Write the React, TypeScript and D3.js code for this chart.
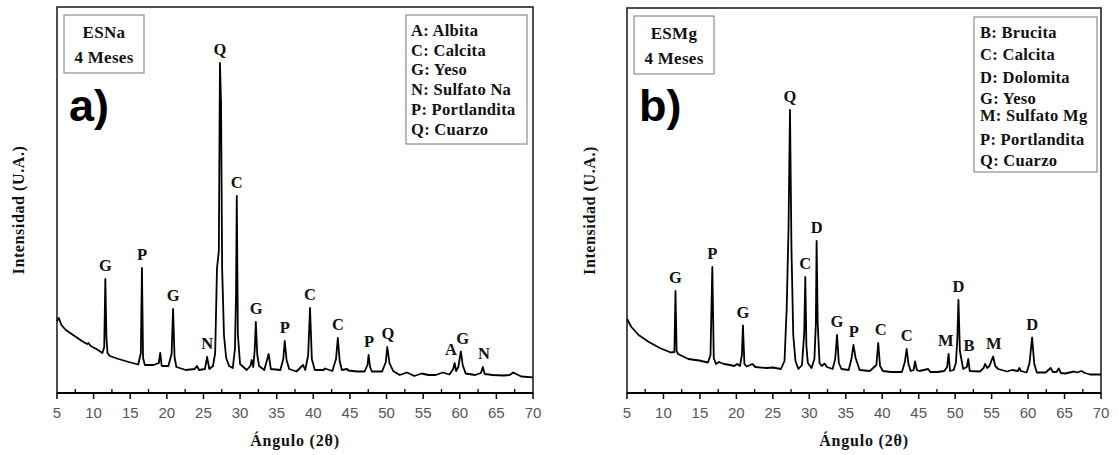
import React from 'react';
import * as d3 from 'd3';

const esnaPattern: [number, number][] = [
  [5.0, 72], [5.25, 75], [5.6, 68], [6.2, 63], [7.0, 59], [7.8, 55], [8.5, 51.5], [9.1, 49],
  [9.3, 50], [9.6, 47], [10.5, 43.5], [11.2, 40], [11.45, 46], [11.6, 114], [11.75, 55],
  [11.9, 40], [12.2, 37], [13.4, 34], [14.8, 31], [16.1, 28.5], [16.45, 40], [16.6, 125],
  [16.75, 35], [17.0, 28], [18.2, 28], [18.9, 30], [19.1, 40], [19.3, 27], [20.2, 27],
  [20.65, 39], [20.85, 84], [21.05, 36], [21.3, 26], [22.6, 23], [23.8, 24], [24.1, 27],
  [24.4, 23], [25.2, 24], [25.5, 36], [25.8, 24], [26.3, 27], [26.6, 40], [26.85, 125],
  [27.1, 142], [27.25, 330], [27.4, 290], [27.55, 125], [27.8, 58], [28.1, 35], [28.5, 27],
  [29.0, 25], [29.3, 44], [29.45, 100], [29.55, 197], [29.7, 58], [30.0, 29], [30.9, 23],
  [31.4, 27], [31.6, 33], [31.8, 26], [32.0, 43], [32.15, 71], [32.35, 38], [32.6, 27],
  [33.3, 23], [33.9, 39], [34.2, 24], [35.5, 23], [35.9, 34], [36.1, 52], [36.35, 33],
  [36.7, 24], [37.7, 21.5], [38.6, 28], [38.9, 23], [39.3, 38], [39.55, 85], [39.8, 34],
  [40.2, 23], [41.4, 23], [41.6, 24.5], [42.6, 22], [43.1, 34], [43.35, 55], [43.6, 32],
  [43.9, 23], [44.6, 24], [44.8, 22.5], [46.0, 21.5], [47.0, 21.5], [47.4, 28], [47.55, 38],
  [47.75, 26], [48.0, 21.5], [49.4, 21.5], [49.9, 31], [50.1, 46], [50.4, 30], [50.9, 22],
  [51.8, 18], [52.8, 20.5], [53.8, 17], [54.8, 19.5], [55.7, 18], [56.7, 18], [57.7, 20.5],
  [58.6, 18.5], [59.1, 24], [59.3, 30], [59.5, 22], [59.8, 26], [60.15, 41.5], [60.4, 28],
  [60.8, 19.5], [62.1, 18], [62.9, 20], [63.15, 26], [63.4, 19], [64.5, 18], [66.0, 17.5],
  [66.8, 18], [67.3, 20.5], [67.7, 19], [68.4, 16.5], [70.0, 15.7]
];

const esmgPattern: [number, number][] = [
  [5.0, 74], [5.15, 72], [5.6, 66], [6.6, 58], [8.0, 51], [9.5, 45], [11.0, 40.5], [11.5, 41],
  [11.65, 102], [11.8, 42], [12.0, 39], [13.4, 34], [14.9, 32.5], [16.1, 30.5], [16.45, 38],
  [16.7, 126], [16.9, 35], [17.2, 29], [17.6, 31], [18.3, 29], [19.1, 28], [19.7, 27],
  [20.1, 29], [20.5, 27], [20.75, 38], [20.9, 67.5], [21.1, 29], [21.4, 26.5], [22.2, 29],
  [22.6, 26], [24.1, 25], [25.0, 25.5], [26.1, 24], [26.6, 32], [26.9, 85], [27.15, 165],
  [27.35, 283], [27.55, 145], [27.8, 58], [28.1, 32], [28.5, 24], [29.0, 28], [29.3, 60],
  [29.45, 116], [29.6, 47], [29.8, 30], [30.3, 25], [30.7, 34], [30.9, 70], [31.0, 152],
  [31.15, 70], [31.4, 30], [31.7, 27], [32.1, 29.5], [32.4, 26], [33.2, 24], [33.55, 34],
  [33.8, 58], [34.05, 30], [34.4, 24], [35.4, 23], [35.8, 35], [36.05, 48], [36.35, 35],
  [36.9, 23], [38.3, 22], [39.2, 28], [39.45, 50], [39.7, 27], [40.1, 22], [41.2, 21],
  [42.7, 21], [43.1, 31], [43.35, 44], [43.6, 29], [43.9, 22], [44.3, 23], [44.5, 31.5],
  [44.75, 23], [45.1, 22], [46.3, 24], [46.6, 21], [47.6, 21], [48.5, 22], [48.9, 26],
  [49.1, 39], [49.3, 22], [49.8, 23], [50.1, 30], [50.3, 54], [50.45, 93], [50.65, 42],
  [51.1, 24], [51.6, 26], [51.8, 34], [52.0, 22], [53.4, 21.5], [53.9, 25], [54.1, 29],
  [54.4, 25], [54.7, 27], [55.2, 36.5], [55.5, 27], [55.9, 24], [57.1, 21.5], [57.8, 23],
  [58.6, 22], [58.8, 25], [59.0, 22], [59.8, 20.5], [60.2, 30], [60.55, 55.5], [60.85, 29],
  [61.2, 20.5], [62.4, 20.5], [63.1, 25], [63.4, 21], [63.9, 21], [64.2, 24.5], [64.5, 20],
  [65.1, 19.5], [66.3, 21.5], [66.7, 20.5], [67.3, 22], [67.8, 20], [68.5, 18.5], [70.0, 18.5]
];

// [fase, 2θ del pico, 2θ de la etiqueta]
const esnaPeaks: [string, number, number][] = [
  ['G', 11.6, 11.6], ['P', 16.6, 16.6], ['G', 20.85, 20.85], ['N', 25.5, 25.5],
  ['Q', 27.25, 27.25], ['C', 29.55, 29.55], ['G', 32.15, 32.2], ['P', 36.1, 36.1],
  ['C', 39.55, 39.55], ['C', 43.35, 43.35], ['P', 47.55, 47.6], ['Q', 50.1, 50.2],
  ['A', 59.3, 58.8], ['G', 60.15, 60.4], ['N', 63.15, 63.3]
];

const esmgPeaks: [string, number, number][] = [
  ['G', 11.65, 11.65], ['P', 16.7, 16.7], ['G', 20.9, 20.9], ['Q', 27.35, 27.35],
  ['C', 29.45, 29.45], ['D', 31.0, 31.0], ['G', 33.8, 33.8], ['P', 36.05, 36.1],
  ['C', 39.45, 39.8], ['C', 43.35, 43.35], ['M', 49.1, 48.7], ['D', 50.45, 50.45],
  ['B', 51.8, 51.9], ['M', 55.2, 55.3], ['D', 60.55, 60.55]
];

const esnaLegend = ['A: Albita', 'C: Calcita', 'G: Yeso', 'N: Sulfato Na', 'P: Portlandita', 'Q: Cuarzo'];
const esmgLegend = ['B: Brucita', 'C: Calcita', 'D: Dolomita', 'G: Yeso', 'M: Sulfato Mg', 'P: Portlandita', 'Q: Cuarzo'];

const angleTicks = d3.range(5, 71, 5);
const minorTicks = d3.range(7.5, 70, 5);

// ====

const serif = '"Liberation Serif", "Times New Roman", serif';
const sans = '"Liberation Sans", Arial, sans-serif';

function Panel(props: any) {
  const { left, right, top, pattern, peaks, sample, tag, legend, box, rows, textX, titleX } = props;
  const bottom = 393;

  const x = d3.scaleLinear().domain([5, 70]).range([left, right]);
  const y = d3.scaleLinear().domain([0, 386]).range([bottom, 7]);

  const line = d3.line<[number, number]>()
    .x((d) => x(d[0]))
    .y((d) => y(d[1]));

  const apex = (ang: number) =>
    d3.max(pattern.filter((p: [number, number]) => Math.abs(p[0] - ang) < 0.2), (p: [number, number]) => p[1]) as number;

  return (
    <g>
      <rect x={left} y={top} width={right - left} height={bottom - top}
        fill="none" stroke="#222" strokeWidth={1.6} />
      <line x1={left} x2={right} y1={bottom} y2={bottom} stroke="#000" strokeWidth={2} />

      {angleTicks.map((t) => (
        <g key={'t' + t}>
          <line x1={x(t)} x2={x(t)} y1={bottom} y2={bottom + 6} stroke="#000" strokeWidth={1.5} />
          <text x={x(t)} y={bottom + 25} textAnchor="middle" fontFamily={sans}
            fontSize={15} fill="#555">{t}</text>
        </g>
      ))}
      {minorTicks.map((t) => (
        <line key={'m' + t} x1={x(t)} x2={x(t)} y1={bottom} y2={bottom - 4} stroke="#000" strokeWidth={1.3} />
      ))}

      <path d={line(pattern) as string} fill="none" stroke="#000" strokeWidth={1.8}
        strokeLinejoin="round" />

      {peaks.map((p: [string, number, number], i: number) => (
        <text key={'p' + i} x={x(p[2])} y={y(apex(p[1])) - 8} textAnchor="middle"
          fontFamily={serif} fontWeight="bold" fontSize={16.5} fill="#111">{p[0]}</text>
      ))}

      <rect x={left + 7} y={top + 8} width={80} height={58} fill="#fff" stroke="#777" strokeWidth={1} />
      <text x={left + 47} y={top + 31} textAnchor="middle" fontFamily={serif} fontWeight="bold"
        fontSize={17} letterSpacing={0.3} fill="#111">{sample}</text>
      <text x={left + 47} y={top + 56} textAnchor="middle" fontFamily={serif} fontWeight="bold"
        fontSize={17} letterSpacing={0.3} fill="#111">4 Meses</text>
      <text x={left + 12} y={121} fontFamily={sans} fontWeight="bold" fontSize={45} fill="#000">{tag}</text>

      <rect x={box[0]} y={box[1]} width={box[2] - box[0]} height={box[3] - box[1]}
        fill="#fff" stroke="#777" strokeWidth={1} />
      {legend.map((s: string, i: number) => (
        <text key={'l' + i} x={textX} y={rows[i] + 5} fontFamily={serif} fontWeight="bold"
          fontSize={16.5} letterSpacing={0.3} fill="#111">{s}</text>
      ))}

      <text transform={`translate(${titleX},${(top + bottom) / 2 + 10}) rotate(-90)`} textAnchor="middle"
        fontFamily={serif} fontWeight="bold" fontSize={16} letterSpacing={0.6} fill="#111">Intensidad (U.A.)</text>
      <text x={(left + right) / 2} y={446} textAnchor="middle" fontFamily={serif} fontWeight="bold"
        fontSize={16} letterSpacing={0.8} fill="#111">Ángulo (2θ)</text>
    </g>
  );
}

export default function App() {
  return (
    <svg width={1118} height={455} style={{ position: 'absolute', left: 0, top: 0, background: '#fff' }}>
      <Panel left={57} right={533} top={7} pattern={esnaPattern} peaks={esnaPeaks}
        sample="ESNa" tag="a)" legend={esnaLegend} box={[406, 15, 527, 144]}
        rows={[31, 51, 70, 90, 110, 130]} textX={411} titleX={24} />
      <Panel left={627} right={1101} top={8} pattern={esmgPattern} peaks={esmgPeaks}
        sample="ESMg" tag="b)" legend={esmgLegend} box={[974, 17, 1097, 172]}
        rows={[33, 55, 78, 99, 116, 140, 161]} textX={980} titleX={595} />
    </svg>
  );
}
